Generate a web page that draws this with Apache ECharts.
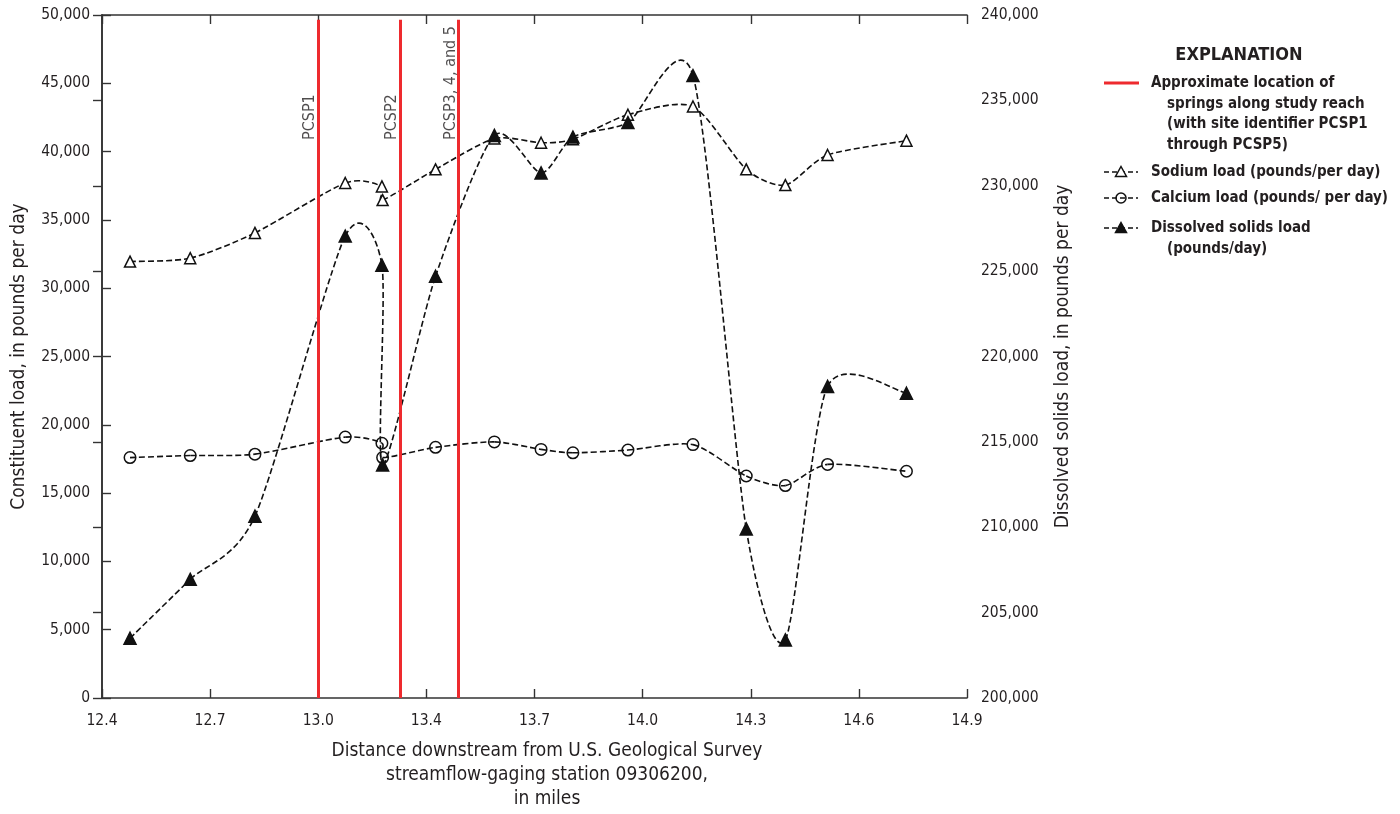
<!DOCTYPE html>
<html>
<head>
<meta charset="utf-8">
<title>Constituent loads along study reach</title>
<script src="https://cdn.jsdelivr.net/npm/echarts@6/dist/echarts.min.js"></script>
<style>
  html, body { margin: 0; padding: 0; background: #ffffff; }
  #chart { width: 1400px; height: 814px; }
</style>
</head>
<body>
<div id="chart"></div>
<script>
// Distance downstream from gaging station 09306200, in miles
const distance = [12.481, 12.655, 12.842, 13.103, 13.209, 13.211, 13.364, 13.534,
                  13.669, 13.761, 13.920, 14.108, 14.262, 14.375, 14.497, 14.725];

// Loads, in pounds per day
const sodium = [31950, 32200, 34050, 37700, 37450, 36450, 38700, 40950,
                40650, 40900, 42700, 43300, 38700, 37550, 39750, 40800];
const calcium = [17600, 17750, 17850, 19100, 18650, 17600, 18350, 18750,
                 18200, 17950, 18150, 18550, 16250, 15550, 17100, 16600];
const dissolvedSolids = [203500, 206950, 210650, 227050, 225350, 213650, 224700, 232950,
                         230750, 232850, 233700, 236450, 209900, 203400, 218250, 217850];

// Springs along the study reach
const springNames = ['PCSP1', 'PCSP2', 'PCSP3, 4, and 5'];
const springMiles = [13.025, 13.262, 13.43];

// Bottom axis tick labels (nine evenly spaced ticks, 12.4 to 14.9)
const tickLabels = ['12.4', '12.7', '13.0', '13.4', '13.7', '14.0', '14.3', '14.6', '14.9'];

const FONT = '"DejaVu Sans Condensed", "Liberation Sans Narrow", "Arial Narrow", sans-serif';
const INK = '#231f20';
const RED = '#ee2a2e';
const springTop = 49650;     // springs lines stop just below the frame
const springLabelY = 40850;  // spring labels start at this level and run upward

const zip = (xs, ys) => xs.map((x, i) => [x, ys[i]]);

const DASH = [6, 3];
const LINE_W = 1.6;
const TENSION = 0.75;   // scales the Catmull-Rom tangents

// Smooth curve through the points of one series (cardinal spline in screen space)
function splineSeries(name, data, yAxisIndex) {
  return {
    name: name + ' curve',
    type: 'custom',
    xAxisIndex: 0, yAxisIndex: yAxisIndex,
    z: 2, silent: true,
    data: data,
    renderItem: function (params, api) {
      if (params.dataIndex !== 0) return null;
      const pts = data.map(d => api.coord(d));
      const n = pts.length;
      const k = TENSION / 6;
      const children = [];
      for (let i = 0; i < n - 1; i++) {
        const p0 = pts[Math.max(i - 1, 0)], p1 = pts[i], p2 = pts[i + 1], p3 = pts[Math.min(i + 2, n - 1)];
        children.push({
          type: 'bezierCurve',
          shape: {
            x1: p1[0], y1: p1[1], x2: p2[0], y2: p2[1],
            cpx1: p1[0] + (p2[0] - p0[0]) * k, cpy1: p1[1] + (p2[1] - p0[1]) * k,
            cpx2: p2[0] - (p3[0] - p1[0]) * k, cpy2: p2[1] - (p3[1] - p1[1]) * k
          },
          style: { fill: 'none', stroke: '#111', lineWidth: LINE_W, lineDash: DASH }
        });
      }
      return { type: 'group', children: children };
    }
  };
}

function markerSeries(name, data, yAxisIndex, symbol, size, fill) {
  return {
    name: name,
    type: 'scatter',
    xAxisIndex: 0, yAxisIndex: yAxisIndex,
    z: 4, silent: true,
    data: data,
    symbol: symbol, symbolSize: size,
    itemStyle: { color: fill, borderColor: '#111', borderWidth: 1.5, opacity: 1 }
  };
}

const chart = echarts.init(document.getElementById('chart'), null, { renderer: 'canvas' });

const legendX = 1104, textX = 1151, indentX = 1167;
const legendFont = 'bold 15px ' + FONT;

function legendText(text, x, y) {
  return { type: 'text', x: x, y: y, style: { text: text, font: legendFont, fill: INK, textAlign: 'left', textVerticalAlign: 'middle' } };
}
function legendDash(y) {
  return { type: 'line', shape: { x1: legendX, y1: y, x2: legendX + 34, y2: y },
           style: { stroke: '#111', lineWidth: LINE_W, lineDash: [5, 3] } };
}
function legendTriangle(y, fill) {
  const cx = legendX + 17;
  return { type: 'polygon', shape: { points: [[cx, y - 5.5], [cx + 5.5, y + 4.5], [cx - 5.5, y + 4.5]] },
           style: { fill: fill, stroke: '#111', lineWidth: 1.5 } };
}

const axisLineStyle = { color: '#333', width: 1.6 };
const tickStyle = { show: true, inside: true, length: 9, lineStyle: { color: '#333', width: 1.4 } };

const sodiumData = zip(distance, sodium);
const calciumData = zip(distance, calcium);
const solidsData = zip(distance, dissolvedSolids);

const option = {
  animation: false,
  backgroundColor: '#ffffff',
  textStyle: { fontFamily: FONT },
  grid: { left: 102, right: 433, top: 15, bottom: 116, containLabel: false, outerBoundsMode: 'none' },
  xAxis: [
    {
      // data scale in miles
      type: 'value', min: 12.4, max: 14.9, show: false
    },
    {
      // bottom tick ruler: eight equal divisions
      type: 'value', position: 'bottom', min: 0, max: 8, interval: 1,
      axisLine: { show: true, lineStyle: axisLineStyle },
      axisTick: tickStyle,
      axisLabel: { show: true, margin: 15, color: INK, fontSize: 15.5, fontFamily: FONT,
                   formatter: v => tickLabels[Math.round(v)] },
      splitLine: { show: false },
      name: 'Distance downstream from U.S. Geological Survey\nstreamflow-gaging station 09306200,\nin miles',
      nameLocation: 'middle', nameGap: 41,
      nameTextStyle: { color: INK, fontSize: 19, fontFamily: FONT, lineHeight: 24, padding: [0, 0, 0, 25] }
    },
    {
      // top frame with matching ticks
      type: 'value', position: 'top', min: 0, max: 8, interval: 1,
      axisLine: { show: true, lineStyle: axisLineStyle },
      axisTick: tickStyle,
      axisLabel: { show: false }, splitLine: { show: false }
    }
  ],
  yAxis: [
    {
      type: 'value', position: 'left', min: 0, max: 50000, interval: 5000,
      axisLine: { show: true, lineStyle: axisLineStyle },
      axisTick: tickStyle,
      axisLabel: { margin: 12, color: INK, fontSize: 15.5, fontFamily: FONT },
      splitLine: { show: false },
      name: 'Constituent load, in pounds per day',
      nameLocation: 'middle', nameGap: 73,
      nameTextStyle: { color: INK, fontSize: 19, fontFamily: FONT }
    },
    {
      type: 'value', position: 'right', min: 200000, max: 240000, interval: 5000,
      axisLine: { show: true, lineStyle: axisLineStyle },
      axisTick: tickStyle,
      axisLabel: { margin: 14, color: INK, fontSize: 15.5, fontFamily: FONT },
      splitLine: { show: false },
      name: 'Dissolved solids load, in pounds per day',
      nameLocation: 'middle', nameGap: 87,
      nameTextStyle: { color: INK, fontSize: 19, fontFamily: FONT }
    }
  ],
  series: [
    {
      name: 'Springs',
      type: 'scatter',
      xAxisIndex: 0, yAxisIndex: 0,
      z: 1,
      symbolSize: 0,
      silent: true,
      data: springMiles.map((m, i) => [m, springLabelY, springNames[i]]),
      label: {
        show: true, position: [0, 0], rotate: 90,
        align: 'left', verticalAlign: 'bottom',
        formatter: p => p.data[2],
        color: INK, fontSize: 16, fontFamily: FONT
      },
      markLine: {
        silent: true, symbol: ['none', 'none'],
        label: { show: false },
        lineStyle: { color: RED, width: 3, type: 'solid' },
        data: springMiles.map(m => [{ coord: [m, 0] }, { coord: [m, springTop] }])
      }
    },
    splineSeries('Sodium load (pounds/per day)', sodiumData, 0),
    splineSeries('Calcium load (pounds/ per day)', calciumData, 0),
    splineSeries('Dissolved solids load (pounds/day)', solidsData, 1),
    markerSeries('Sodium load (pounds/per day)', sodiumData, 0, 'triangle', 11, '#ffffff'),
    markerSeries('Calcium load (pounds/ per day)', calciumData, 0, 'circle', 11.5, 'rgba(255,255,255,0)'),
    markerSeries('Dissolved solids load (pounds/day)', solidsData, 1, 'triangle', 12, '#111')
  ],
  graphic: [
    { type: 'text', x: 1239, y: 55,
      style: { text: 'EXPLANATION', font: 'bold 18px ' + FONT, fill: INK, textAlign: 'center', textVerticalAlign: 'middle' } },
    { type: 'line', shape: { x1: legendX, y1: 83, x2: legendX + 35, y2: 83 }, style: { stroke: RED, lineWidth: 3 } },
    legendText('Approximate location of', textX, 83),
    legendText('springs along study reach', indentX, 104),
    legendText('(with site identifier PCSP1', indentX, 124.5),
    legendText('through PCSP5)', indentX, 145),
    legendDash(172), legendTriangle(172, '#ffffff'),
    legendText('Sodium load (pounds/per day)', textX, 172),
    legendDash(198),
    { type: 'circle', shape: { cx: legendX + 17, cy: 198, r: 5 }, style: { fill: 'rgba(255,255,255,0)', stroke: '#111', lineWidth: 1.5 } },
    legendText('Calcium load (pounds/ per day)', textX, 198),
    legendDash(228), legendTriangle(228, '#111'),
    legendText('Dissolved solids load', textX, 228),
    legendText('(pounds/day)', indentX, 249)
  ]
};

chart.setOption(option);
</script>
</body>
</html>
